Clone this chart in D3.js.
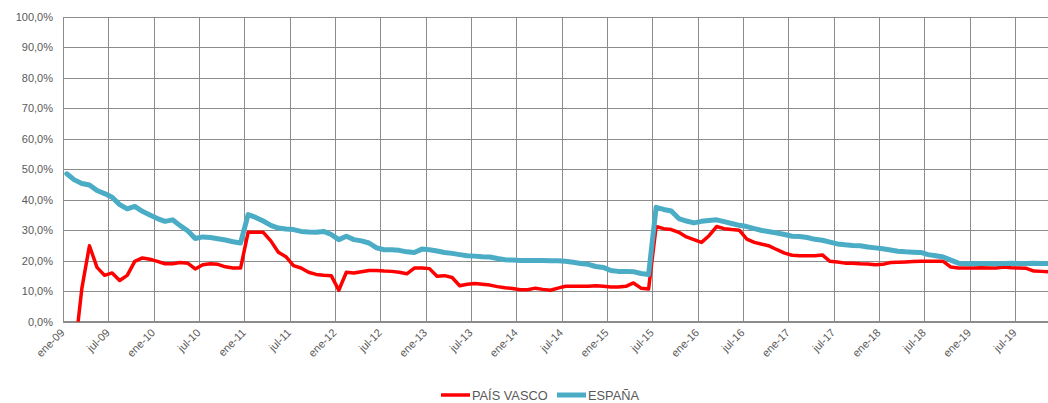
<!DOCTYPE html>
<html>
<head>
<meta charset="utf-8">
<script src="https://cdn.jsdelivr.net/npm/d3@7"></script>
<style>
  html, body { margin: 0; padding: 0; background: #fff; }
  svg { display: block; }
</style>
</head>
<body>
<svg id="chart" width="1048" height="403"></svg>
<script>
// ---- data ----
const monthNames = ["ene","feb","mar","abr","may","jun","jul","ago","sep","oct","nov","dic"];
const startYear = 2009;
const yTicks = [0, 10, 20, 30, 40, 50, 60, 70, 80, 90, 100];
const seriesNames = ["PAÍS VASCO", "ESPAÑA"];

const paisVasco = [
  null, -11, 11, 24.9, 17.8, 15.2, 16.0, 13.5, 15.2, 19.8,
  20.9, 20.5, 19.8, 19.0, 19.0, 19.4, 19.2, 17.3, 18.7, 19.0,
  18.8, 18.0, 17.6, 17.6, 29.3, 29.3, 29.3, 26.5, 22.8, 21.3,
  18.4, 17.6, 16.2, 15.5, 15.2, 15.1, 10.3, 16.2, 16.0, 16.4,
  16.8, 16.8, 16.6, 16.5, 16.2, 15.7, 17.6, 17.6, 17.4, 14.9,
  15.1, 14.5, 11.8, 12.3, 12.5, 12.3, 12.0, 11.5, 11.1, 10.9,
  10.5, 10.5, 11.0, 10.6, 10.3, 11.0, 11.6, 11.6, 11.6, 11.6,
  11.8, 11.6, 11.4, 11.4, 11.6, 12.7, 11.0, 10.7, 31.2, 30.5,
  30.2, 29.3, 27.8, 26.9, 26.0, 28.2, 31.2, 30.5, 30.2, 30.0,
  27.1, 26.0, 25.4, 24.8, 23.6, 22.5, 21.8, 21.6, 21.6, 21.6,
  21.9, 19.8, 19.6, 19.2, 19.2, 19.0, 18.9, 18.7, 18.8, 19.4,
  19.5, 19.6, 19.7, 19.8, 19.8, 19.8, 19.8, 17.9, 17.6, 17.6,
  17.6, 17.7, 17.6, 17.6, 17.9, 17.7, 17.6, 17.5, 16.6, 16.5,
  16.4
];

const espana = [
  48.5, 46.5, 45.3, 44.8, 43.0, 42.0, 40.8, 38.4, 37.0, 37.8,
  36.2, 35.0, 33.8, 32.9, 33.4, 31.5, 29.8, 27.3, 27.8, 27.6,
  27.2, 26.8, 26.2, 25.8, 35.1, 34.2, 33.0, 31.6, 30.7, 30.4,
  30.2, 29.6, 29.4, 29.3, 29.6, 28.6, 26.9, 28.0, 26.9, 26.5,
  25.8, 24.2, 23.6, 23.6, 23.4, 22.9, 22.7, 23.8, 23.6, 23.2,
  22.7, 22.4, 22.0, 21.6, 21.5, 21.3, 21.2, 20.7, 20.3, 20.2,
  20.1, 20.1, 20.1, 20.1, 20.0, 20.0, 19.8, 19.5, 19.1, 18.8,
  18.1, 17.8, 16.8, 16.5, 16.5, 16.4, 15.8, 15.5, 37.5, 36.8,
  36.3, 33.8, 33.0, 32.4, 32.9, 33.2, 33.4, 32.8, 32.2, 31.6,
  31.2, 30.5, 29.9, 29.5, 29.1, 28.6, 28.0, 27.9, 27.6, 27.0,
  26.7, 26.1, 25.5, 25.2, 25.0, 24.9, 24.5, 24.2, 23.9, 23.5,
  23.1, 22.9, 22.8, 22.7, 22.0, 21.6, 21.2, 20.2, 19.2, 19.0,
  19.0, 19.1, 19.1, 19.0, 19.1, 19.2, 19.1, 19.1, 19.2, 19.1,
  19.1
];

const nMonths = espana.length;
const categories = d3.range(nMonths).map(i =>
  monthNames[i % 12] + "-" + String((startYear + Math.floor(i / 12)) % 100).padStart(2, "0"));
const xTickIdx = d3.range(0, nMonths, 6);
const xTickLabels = xTickIdx.map(i => categories[i]);

// ---- layout ----
const svg = d3.select("#chart");
const plotLeft = 63, plotTop = 16.7, plotBottom = 321.7;
const monthW = 7.556;
const x = d3.scaleLinear().domain([0, nMonths]).range([plotLeft, plotLeft + monthW * nMonths]);
const y = d3.scaleLinear().domain([0, 100]).range([plotBottom, plotTop]);

const gridColor = "#8c8c8c";
const textColor = "#595959";
const font = "'Liberation Sans', Arial, sans-serif";

// horizontal gridlines + y labels
const yAxis = d3.axisLeft(y).tickValues(yTicks)
  .tickSize(-(x.range()[1] - plotLeft))
  .tickPadding(10)
  .tickFormat(d => d3.format(".1f")(d).replace(".", ",") + "%");
const gy = svg.append("g").attr("transform", `translate(${plotLeft},0)`).call(yAxis);
gy.select(".domain").remove();
gy.selectAll(".tick line").attr("stroke", gridColor).attr("stroke-width", 1).attr("shape-rendering", "crispEdges");
gy.selectAll(".tick text").attr("fill", textColor).style("font-family", font).style("font-size", "11px");

// vertical gridlines + x labels
const xAxis = d3.axisBottom(x).tickValues(xTickIdx)
  .tickSize(-(plotBottom - plotTop))
  .tickFormat((d, i) => xTickLabels[i]);
const gx = svg.append("g").attr("transform", `translate(0,${plotBottom})`).call(xAxis);
gx.select(".domain").remove();
gx.selectAll(".tick line").attr("stroke", gridColor).attr("stroke-width", 1).attr("shape-rendering", "crispEdges");
gx.selectAll(".tick text")
  .attr("fill", textColor)
  .style("font-family", font).style("font-size", "11px")
  .attr("text-anchor", "end")
  .attr("transform", "translate(-1,9) rotate(-45)")
  .attr("x", 0).attr("y", 0).attr("dy", "0.35em");

// bottom axis line
svg.append("line")
  .attr("x1", plotLeft).attr("x2", x.range()[1])
  .attr("y1", plotBottom).attr("y2", plotBottom)
  .attr("stroke", gridColor).attr("shape-rendering", "crispEdges");

// clip
svg.append("clipPath").attr("id", "plotclip")
  .append("rect").attr("x", plotLeft).attr("y", plotTop - 5)
  .attr("width", x.range()[1] - plotLeft).attr("height", plotBottom - plotTop + 5);

const line = d3.line()
  .defined(d => d != null)
  .x((d, i) => x(i + 0.5))
  .y(d => y(d));

const lines = svg.append("g").attr("clip-path", "url(#plotclip)");
lines.append("path").datum(paisVasco)
  .attr("d", line).attr("fill", "none")
  .attr("stroke", "#ff0000").attr("stroke-width", 3.5)
  .attr("stroke-linejoin", "round").attr("stroke-linecap", "round");
lines.append("path").datum(espana)
  .attr("d", line).attr("fill", "none")
  .attr("stroke", "#4bacc6").attr("stroke-width", 5)
  .attr("stroke-linejoin", "round").attr("stroke-linecap", "round");

// legend
const legend = svg.append("g").style("font-family", font).style("font-size", "12.8px");
const legItems = [
  { name: seriesNames[0], color: "#ff0000", w: 3.5, x0: 441 },
  { name: seriesNames[1], color: "#4bacc6", w: 5, x0: 557 }
];
legItems.forEach(it => {
  legend.append("line").attr("x1", it.x0).attr("x2", it.x0 + 29)
    .attr("y1", 395).attr("y2", 395)
    .attr("stroke", it.color).attr("stroke-width", it.w);
  legend.append("text").attr("x", it.x0 + 31).attr("y", 400)
    .attr("fill", textColor).text(it.name);
});
</script>
</body>
</html>
